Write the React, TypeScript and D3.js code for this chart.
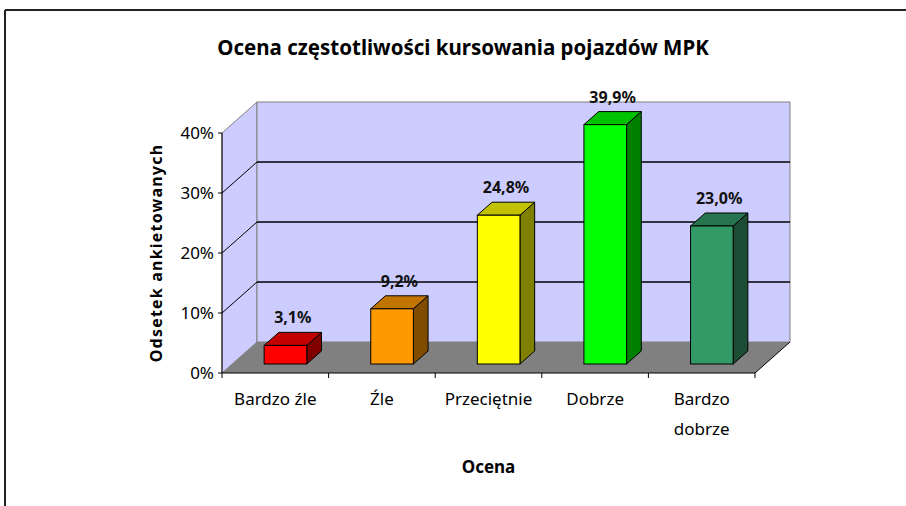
import React from "react";
import * as d3 from "d3";

const categories = ["Bardzo źle", "Źle", "Przeciętnie", "Dobrze", "Bardzo dobrze"];
const values = [3.1, 9.2, 24.8, 39.9, 23.0];
const barColors = ["#FF0000", "#FF9900", "#FFFF00", "#00FF00", "#339966"];
const yTicks = [0, 10, 20, 30, 40];
const title = "Ocena częstotliwości kursowania pojazdów MPK";
const yTitle = "Odsetek ankietowanych";
const xTitle = "Ocena";

const W = 906;
const H = 506;
const X0 = 222;
const X1 = 755;
const Y0 = 373;
const Y1 = 133;
const DX = 35;
const DY = -31;
const F_FRONT = 0.29;
const F_BACK = 0.71;
const FONT = "'Noto Sans', 'DejaVu Sans', sans-serif";

function darker(c: string, k: number): string {
  const rgb = d3.rgb(c);
  return d3.rgb(rgb.r * k, rgb.g * k, rgb.b * k).formatHex();
}

const fmt = (v: number) => d3.format(".1f")(v).replace(".", ",") + "%";

export default function App() {
  const y = d3.scaleLinear().domain([0, 40]).range([Y0, Y1]);
  const x = d3.scaleBand<string>().domain(categories).range([X0, X1]).padding(0);
  const bw = x.bandwidth() * 0.4;
  const fdx = DX * F_FRONT;
  const fdy = DY * F_FRONT;
  const ddx = DX * (F_BACK - F_FRONT);
  const ddy = DY * (F_BACK - F_FRONT);

  const pts = (arr: [number, number][]) => arr.map((p) => p.join(",")).join(" ");

  return (
    <svg
      width={W}
      height={H}
      style={{ position: "absolute", left: 0, top: 0, background: "#fff" }}
    >
      {/* frame */}
      <line x1={5} y1={10} x2={W} y2={10} stroke="#222" strokeWidth={2} />
      <line x1={5} y1={10} x2={5} y2={H} stroke="#222" strokeWidth={2} />

      <text x={463} y={55} textAnchor="middle" fontFamily={FONT} fontWeight="bold" fontSize={20.5} fill="#000">
        {title}
      </text>

      {/* side wall */}
      <polygon
        points={pts([[X0, Y0], [X0 + DX, Y0 + DY], [X0 + DX, Y1 + DY], [X0, Y1]])}
        fill="#CCCCFF"
        stroke="#808080"
        strokeWidth={1}
      />
      {/* back wall */}
      <rect
        x={X0 + DX}
        y={Y1 + DY}
        width={X1 - X0}
        height={Y0 - Y1}
        fill="#CCCCFF"
        stroke="#808080"
        strokeWidth={1}
      />
      {/* floor */}
      <polygon
        points={pts([[X0, Y0], [X1, Y0], [X1 + DX, Y0 + DY], [X0 + DX, Y0 + DY]])}
        fill="#808080"
      />
      <line x1={X1} y1={Y0} x2={X1 + DX} y2={Y0 + DY} stroke="#000" strokeWidth={1} />

      {/* gridlines */}
      {yTicks.filter((t) => t > 0 && t < 40).map((t) => (
        <g key={"g" + t}>
          <line x1={X0} y1={y(t)} x2={X0 + DX} y2={y(t) + DY} stroke="#000" strokeWidth={1} />
          <line x1={X0 + DX} y1={y(t) + DY} x2={X1 + DX} y2={y(t) + DY} stroke="#000" strokeWidth={1.5} />
        </g>
      ))}

      {/* bars */}
      {categories.map((c, i) => {
        const cx = (x(c) as number) + x.bandwidth() / 2 + fdx;
        const l = cx - bw / 2;
        const r = cx + bw / 2;
        const b = Y0 + fdy;
        const t = b - (Y0 - y(values[i]));
        const col = barColors[i];
        return (
          <g key={c} stroke="#000" strokeWidth={1}>
            <polygon points={pts([[r, b], [r + ddx, b + ddy], [r + ddx, t + ddy], [r, t]])} fill={darker(col, 0.5)} />
            <polygon points={pts([[l, t], [l + ddx, t + ddy], [r + ddx, t + ddy], [r, t]])} fill={darker(col, 0.76)} />
            <rect x={l} y={t} width={bw} height={b - t} fill={col} />
            <text
              x={cx + ddx / 2}
              y={t + ddy - 9}
              textAnchor="middle"
              fontFamily={FONT}
              fontWeight="bold"
              fontSize={16}
              fill="#111"
              stroke="none"
            >
              {fmt(values[i])}
            </text>
          </g>
        );
      })}

      {/* axes */}
      <line x1={X0} y1={Y0} x2={X0} y2={Y1} stroke="#000" strokeWidth={1} />
      <line x1={X0} y1={Y0} x2={X1} y2={Y0} stroke="#000" strokeWidth={1} />
      {yTicks.map((t) => (
        <g key={"t" + t}>
          <line x1={X0 - 4} y1={y(t)} x2={X0} y2={y(t)} stroke="#000" />
          <text x={X0 - 8} y={y(t)} dy="0.35em" textAnchor="end" fontFamily={FONT} fontSize={17} fill="#000">
            {t + "%"}
          </text>
        </g>
      ))}
      {d3.range(categories.length + 1).map((i) => {
        const xx = X0 + i * x.bandwidth();
        return <line key={"xt" + i} x1={xx} y1={Y0} x2={xx} y2={Y0 + 5} stroke="#000" />;
      })}
      {categories.map((c) => {
        const cx = (x(c) as number) + x.bandwidth() / 2;
        const words = c === "Bardzo dobrze" ? ["Bardzo", "dobrze"] : [c];
        return (
          <text key={"l" + c} x={cx} y={405} textAnchor="middle" fontFamily={FONT} fontSize={17} fill="#000">
            {words.map((w, k) => (
              <tspan key={k} x={cx} dy={k === 0 ? 0 : 30}>
                {w}
              </tspan>
            ))}
          </text>
        );
      })}

      <text x={(X0 + X1) / 2} y={473} textAnchor="middle" fontFamily={FONT} fontWeight="bold" fontSize={17} fill="#000">
        {xTitle}
      </text>
      <text
        transform={`translate(162, 253) rotate(-90)`}
        textAnchor="middle"
        fontFamily={FONT}
        fontWeight="bold"
        fontSize={16}
        letterSpacing={1.2}
        fill="#000"
      >
        {yTitle}
      </text>
    </svg>
  );
}
